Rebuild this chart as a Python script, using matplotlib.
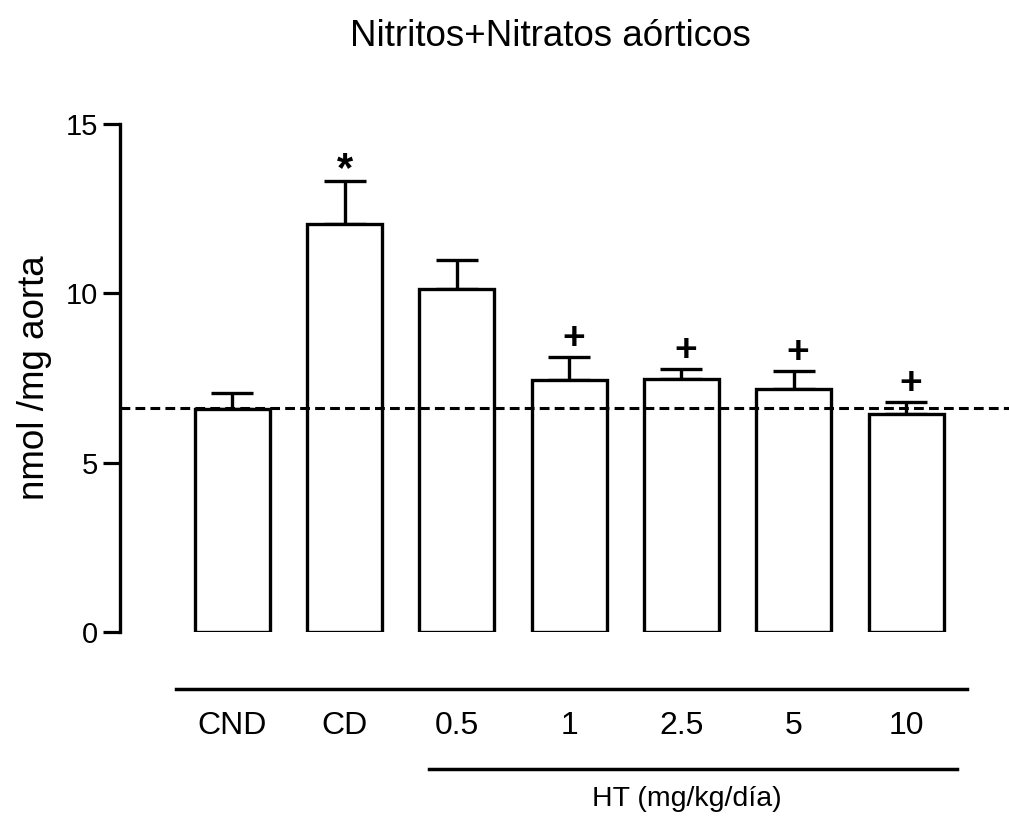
import matplotlib.pyplot as plt

plt.rcParams['font.family'] = ['Liberation Sans', 'DejaVu Sans']

groups = ['CND', 'CD', '0.5', '1', '2.5', '5', '10']
means = [6.57, 12.04, 10.13, 7.43, 7.47, 7.18, 6.45]
sems = [0.49, 1.29, 0.86, 0.69, 0.31, 0.54, 0.33]
marks = ['', '*', '', '+', '+', '+', '+']
control_level = 6.62

fig = plt.figure(figsize=(10.09, 8.16), dpi=100)
ax = fig.add_axes([120 / 1009, 184 / 816, 889 / 1009, 508 / 816])

x = list(range(len(groups)))
ax.bar(x, means, width=0.668, color='white', edgecolor='black', linewidth=2.4, zorder=2)
ax.errorbar(x, means, yerr=[[0] * len(sems), sems], fmt='none', ecolor='black',
            elinewidth=2.4, capsize=15, capthick=2.4, zorder=1)
ax.axhline(control_level, color='black', lw=2.2, dashes=(3.2, 1.7), zorder=3)

for xi, m, s, mk in zip(x, means, sems, marks):
    if mk == '*':
        ax.text(xi, m + s + 0.3, mk, ha='center', va='center',
                fontsize=30, fontweight='bold')
    elif mk:
        ax.text(xi + 0.04, m + s + 0.53, mk, ha='center', va='center',
                fontsize=28, fontweight='bold')

ax.set_xlim(-1.0, 6.917)
ax.set_ylim(0, 15)
ax.set_yticks([0, 5, 10, 15])
ax.tick_params(axis='y', length=12, width=2.3, labelsize=21, pad=4)
ax.set_xticks(x)
ax.set_xticklabels(groups, fontsize=23)
ax.tick_params(axis='x', length=0, pad=57)
for side in ['top', 'right', 'bottom']:
    ax.spines[side].set_visible(False)
ax.spines['left'].set_linewidth(2.4)
ax.set_ylabel('nmol /mg aorta', fontsize=26.5, labelpad=10)

# group lines under the bars
ax.plot([-0.503, 6.54], [-1.68, -1.68], color='black', lw=2.5, clip_on=False)
ax.plot([1.75, 6.45], [-4.05, -4.05], color='black', lw=2.5, clip_on=False)
ax.text(4.05, -4.93, 'HT (mg/kg/día)', ha='center', va='center', fontsize=20.5)

fig.text(550 / 1009, 1 - 37 / 816, 'Nitritos+Nitratos aórticos', ha='center',
         va='center', fontsize=26.5)

fig.savefig('out.png', dpi=100)
